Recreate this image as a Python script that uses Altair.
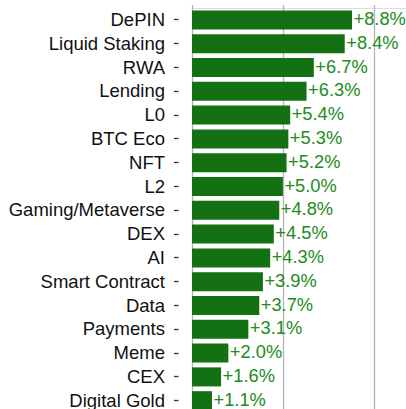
import altair as alt
import pandas as pd

categories = ["DePIN", "Liquid Staking", "RWA", "Lending", "L0", "BTC Eco", "NFT", "L2",
              "Gaming/Metaverse", "DEX", "AI", "Smart Contract", "Data", "Payments",
              "Meme", "CEX", "Digital Gold"]
values = [8.8, 8.4, 6.7, 6.3, 5.4, 5.3, 5.2, 5.0, 4.8, 4.5, 4.3, 3.9, 3.7, 3.1, 2.0, 1.6, 1.1]
labels = ["+%.1f%%" % v for v in values]

df = pd.DataFrame({"category": categories, "value": values, "label": labels})

FONT = "Liberation Sans"

x_enc = alt.X("value:Q", scale=alt.Scale(domain=[0, 11.77], nice=False, zero=True),
              axis=alt.Axis(values=[0, 5, 10], grid=True, gridColor="#b4b4b4", gridWidth=1.3,
                            labels=False, ticks=False, domain=False, title=None))
y_enc = alt.Y("category:N", sort=categories,
              scale=alt.Scale(paddingInner=0.2, paddingOuter=0.1, range=[0, 404.6]),
              axis=alt.Axis(title=None, domain=False, ticks=True, tickSize=4.5, tickWidth=1.3,
                            tickColor="#333333", offset=14, labelPadding=9,
                            labelFont=FONT, labelFontSize=18.5, labelColor="#111111",
                            grid=False))

bars = alt.Chart(df).mark_bar(color="#137013", clip=True).encode(x=x_enc, y=y_enc)

text = alt.Chart(df).mark_text(align="left", baseline="middle", dx=1.5, font=FONT,
                               fontSize=18.3, color="#228b22", clip=False).encode(
    x=alt.X("value:Q"), y=alt.Y("category:N", sort=categories), text="label:N")

chart = alt.layer(bars, text).properties(
    width=214, height=401,
    autosize=alt.AutoSizeParams(type="none"),
    padding={"left": 192, "top": 8, "right": 0, "bottom": 0},
).configure_view(stroke=None).configure(background="white")

chart.save("out.html", embed_options={"renderer": "svg", "actions": False})
